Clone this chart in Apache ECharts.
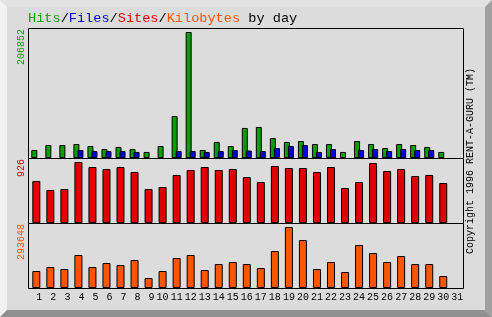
<!DOCTYPE html>
<html><head><meta charset="utf-8">
<script src="https://cdn.jsdelivr.net/npm/echarts@6/dist/echarts.min.js"></script>
<style>html,body{margin:0;padding:0;background:#dcdcdc}#c{width:492px;height:317px}</style>
</head><body><div id="c"></div>
<script>
const days = ['1','2','3','4','5','6','7','8','9','10','11','12','13','14','15','16','17','18','19','20','21','22','23','24','25','26','27','28','29','30','31'];
const hits = [13100,21300,21300,23000,19700,14800,18100,14800,9900,19700,68900,206852,13100,26300,19700,49300,50900,32800,26300,27900,23000,23000,9900,27900,23000,16400,23000,21300,18100,9900,0];
const files = [0,0,0,13100,11500,11500,11500,9900,0,0,11500,11500,9900,11500,13100,12300,11500,16400,19700,21300,9900,14800,0,13100,14800,11500,14800,13100,13100,0,0];
const sites = [638,501,516,926,850,820,850,774,516,546,729,805,850,805,820,698,622,865,835,835,774,850,531,622,911,789,820,713,729,607,0];
const kbytes = [81800,101100,91500,158900,101100,120400,110700,134800,48100,81800,144400,158900,86700,115500,125200,115500,96300,178100,293648,231100,91500,125200,77000,207000,168500,125200,154000,115500,115500,57800,0];

const C = {green:'#00a000', blue:'#0000d8', red:'#e00000', orange:'#ff5500'};
const MONO = '"Liberation Mono", "DejaVu Sans Mono", monospace';
const TS = 13.6;
const maxH = Math.max(...hits), maxS = Math.max(...sites), maxK = Math.max(...kbytes);
const nz = a => a.map(v => v === 0 ? null : v);

const L = 28, W = 435, panels = [{top:28,h:130},{top:158,h:65},{top:223,h:65}];
const gridLeft = L + 1.3;

const chart = echarts.init(document.getElementById('c'), null, {renderer:'canvas'});
const barStyle = c => ({color:c, borderColor:'#000', borderWidth:1});
const rs = c => ({fill:c, fontFamily:MONO, fontSize:TS});
chart.setOption({
  backgroundColor:'#dcdcdc',
  animation:false,
  grid: panels.map(p => ({left:gridLeft, width:W, top:p.top, height:p.h, show:false})),
  xAxis: panels.map((p,i) => ({
    type:'category', gridIndex:i, data:days, boundaryGap:true,
    axisLine:{show:false}, axisTick:{show:false}, splitLine:{show:false},
    axisLabel:{show:i===2, interval:0, margin:4, color:'#000', fontFamily:MONO, fontSize:10,
      formatter: v => v.length < 2 ? ' ' + v : v}
  })),
  yAxis: [
    {type:'value', gridIndex:0, min:0, max:maxH*130/126, show:false},
    {type:'value', gridIndex:1, min:0, max:maxS*65/61, show:false},
    {type:'value', gridIndex:2, min:0, max:maxK*65/61, show:false}
  ],
  series: [
    {name:'Hits', type:'bar', xAxisIndex:0, yAxisIndex:0, data:nz(hits), barWidth:6, barGap:'-33%', itemStyle:barStyle(C.green)},
    {name:'Files', type:'bar', xAxisIndex:0, yAxisIndex:0, data:nz(files), barWidth:6, barGap:'-33%', itemStyle:barStyle(C.blue)},
    {name:'Sites', type:'bar', xAxisIndex:1, yAxisIndex:1, data:nz(sites), barWidth:8, itemStyle:barStyle(C.red)},
    {name:'Kilobytes', type:'bar', xAxisIndex:2, yAxisIndex:2, data:nz(kbytes), barWidth:8, itemStyle:barStyle(C.orange)}
  ],
  graphic: [
    {type:'polygon', silent:true, z:-10, shape:{points:[[0,0],[492,0],[485,7],[7,7]]}, style:{fill:'#e2e2e2'}},
    {type:'polygon', silent:true, z:-10, shape:{points:[[0,0],[7,7],[7,310],[0,317]]}, style:{fill:'#f2f2f2'}},
    {type:'polygon', silent:true, z:-10, shape:{points:[[492,0],[492,317],[485,310],[485,7]]}, style:{fill:'#a0a0a0'}},
    {type:'polygon', silent:true, z:-10, shape:{points:[[0,317],[492,317],[485,310],[7,310]]}, style:{fill:'#909090'}},
    ...panels.map(p => ({type:'rect', silent:true, z:100, shape:{x:L+0.5, y:p.top+0.5, width:W, height:p.h},
      style:{fill:null, stroke:'#000', lineWidth:1}})),
    {type:'text', x:L, y:18, style:{
      text:'{g|Hits}{k|/}{b|Files}{k|/}{r|Sites}{k|/}{o|Kilobytes}{k| by day}',
      verticalAlign:'middle', align:'left', font:TS + 'px ' + MONO,
      rich:{g:rs(C.green), b:rs(C.blue), r:rs(C.red), o:rs(C.orange), k:rs('#000')}}},
    {type:'text', x:21, y:panels[0].top+1, rotation:Math.PI/2, style:{text:String(maxH), fill:C.green, font:'10px '+MONO, align:'right', verticalAlign:'middle'}},
    {type:'text', x:21, y:panels[1].top+1, rotation:Math.PI/2, style:{text:String(maxS), fill:C.red, font:'10px '+MONO, align:'right', verticalAlign:'middle'}},
    {type:'text', x:21, y:panels[2].top+1, rotation:Math.PI/2, style:{text:String(maxK), fill:C.orange, font:'10px '+MONO, align:'right', verticalAlign:'middle'}},
    {type:'text', x:470, y:161, rotation:Math.PI/2, style:{text:'Copyright 1996 RENT-A-GURU (TM)', fill:'#000', font:'10px '+MONO, align:'center', verticalAlign:'middle'}}
  ]
});
</script></body></html>
